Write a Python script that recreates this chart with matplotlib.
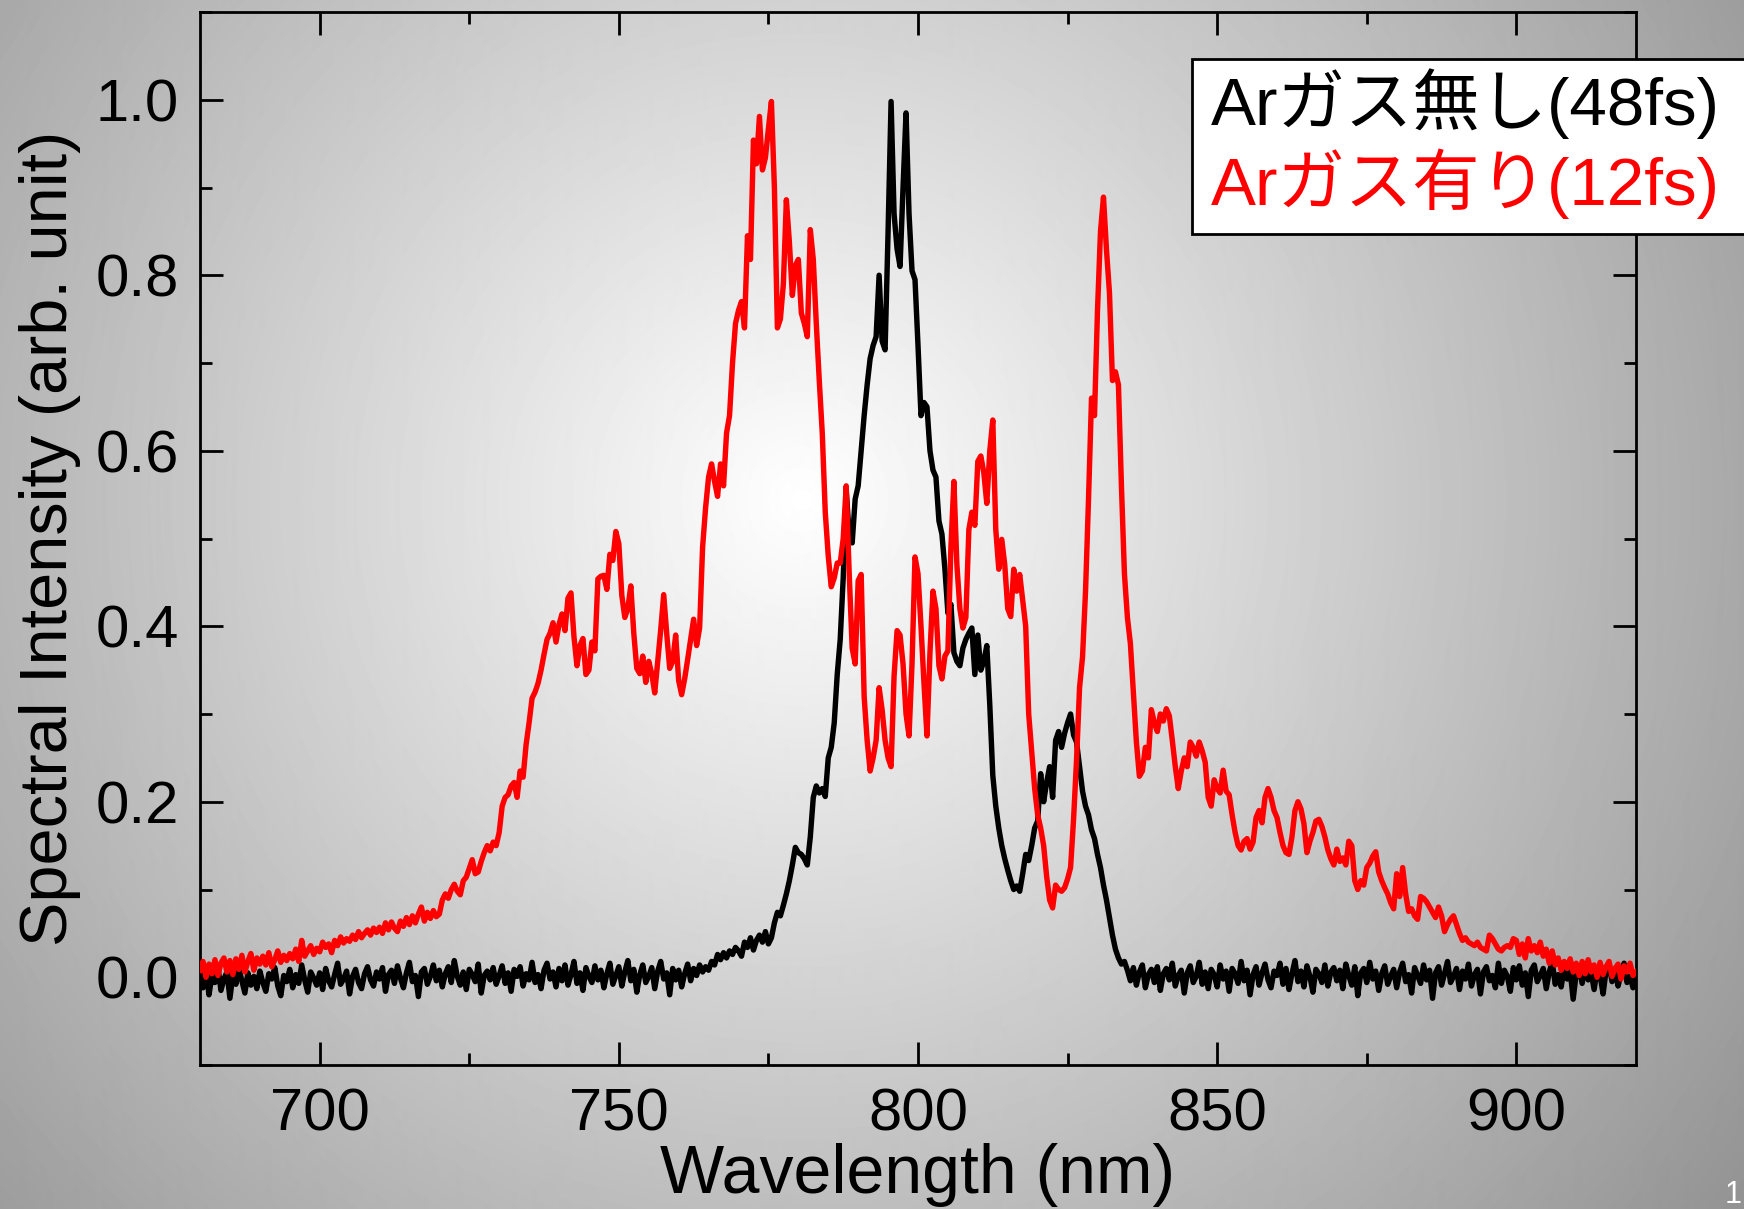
import numpy as np
import matplotlib
matplotlib.use("Agg")
import matplotlib.pyplot as plt
from matplotlib import font_manager
from matplotlib.patches import Rectangle
from matplotlib.ticker import MultipleLocator

wavelength = np.arange(680, 920.01, 0.5)

# Ar gas off (48 fs)
no_gas = [
    0.004, -0.012, 0.008, -0.020, 0.002, -0.006, 0.012, -0.015, -0.002, 0.006, -0.024, 0.003, -0.008, 0.010, -0.004, -0.018, 0.005, -0.009, 0.001, -0.013,
    0.007, -0.006, -0.016, 0.004, -0.002, 0.011, -0.010, -0.021, 0.002, -0.005, 0.009, -0.012, 0.003, -0.007, 0.014, -0.003, -0.017, 0.006, -0.001, -0.009,
    0.005, -0.014, 0.010, -0.004, -0.011, 0.003, 0.016, -0.008, -0.002, 0.007, -0.019, 0.001, 0.009, -0.006, -0.013, 0.004, 0.012, -0.003, -0.010, 0.006,
    -0.002, 0.011, -0.016, 0.003, 0.008, -0.007, 0.013, -0.001, -0.012, 0.005, 0.017, -0.005, 0.002, -0.022, 0.006, 0.010, -0.008, 0.001, 0.014, -0.004,
    0.008, -0.011, 0.004, 0.012, -0.006, 0.019, 0.001, -0.009, 0.006, -0.014, 0.009, 0.003, -0.005, 0.015, -0.018, 0.002, 0.007, -0.003, 0.011, -0.008,
    0.002, 0.013, -0.007, 0.005, -0.016, 0.009, 0.001, 0.012, -0.010, 0.004, -0.003, 0.017, -0.006, 0.003, -0.013, 0.008, 0.016, -0.002, 0.006, -0.011,
    0.010, -0.004, 0.014, -0.009, 0.003, 0.018, -0.007, 0.005, -0.015, 0.011, 0.001, -0.006, 0.013, -0.003, 0.008, -0.012, 0.004, 0.016, -0.008, 0.002,
    0.012, -0.010, 0.006, 0.019, -0.004, 0.009, -0.017, 0.003, 0.014, -0.006, 0.001, 0.011, -0.013, 0.007, 0.018, -0.002, 0.005, -0.020, 0.010, -0.003,
    0.008, -0.011, 0.004, 0.015, -0.004, 0.010, 0.002, 0.014, 0.006, 0.012, 0.008, 0.018, 0.014, 0.026, 0.020, 0.028, 0.022, 0.030, 0.026, 0.034,
    0.030, 0.024, 0.040, 0.034, 0.045, 0.031, 0.042, 0.048, 0.040, 0.052, 0.038, 0.045, 0.062, 0.074, 0.070, 0.082, 0.095, 0.110, 0.128, 0.148,
    0.142, 0.140, 0.135, 0.128, 0.160, 0.205, 0.218, 0.210, 0.215, 0.206, 0.250, 0.262, 0.290, 0.345, 0.385, 0.455, 0.555, 0.505, 0.495, 0.545,
    0.560, 0.600, 0.640, 0.675, 0.705, 0.720, 0.730, 0.800, 0.725, 0.715, 0.850, 0.998, 0.870, 0.830, 0.810, 0.900, 0.985, 0.870, 0.805, 0.795,
    0.720, 0.640, 0.655, 0.650, 0.600, 0.578, 0.570, 0.520, 0.505, 0.465, 0.415, 0.425, 0.370, 0.360, 0.355, 0.375, 0.385, 0.392, 0.398, 0.345,
    0.390, 0.350, 0.360, 0.378, 0.310, 0.230, 0.195, 0.170, 0.150, 0.135, 0.122, 0.110, 0.100, 0.104, 0.098, 0.118, 0.140, 0.133, 0.150, 0.170,
    0.178, 0.232, 0.200, 0.222, 0.240, 0.205, 0.270, 0.280, 0.262, 0.278, 0.290, 0.300, 0.276, 0.268, 0.240, 0.212, 0.195, 0.185, 0.168, 0.158,
    0.140, 0.125, 0.105, 0.088, 0.068, 0.048, 0.032, 0.022, 0.015, 0.018, 0.008, -0.004, 0.011, -0.009, 0.006, 0.014, -0.012, 0.003, 0.009, -0.006,
    0.012, -0.015, 0.004, 0.010, -0.003, 0.016, -0.010, 0.002, 0.008, -0.018, 0.005, 0.013, -0.006, 0.001, 0.017, -0.008, 0.006, -0.013, 0.009, 0.003,
    -0.011, 0.014, -0.002, 0.007, -0.016, 0.010, 0.004, -0.007, 0.018, -0.004, 0.008, -0.020, 0.003, 0.012, -0.009, 0.005, 0.015, -0.003, -0.012, 0.007,
    0.002, 0.016, -0.008, 0.010, -0.014, 0.004, 0.019, -0.005, 0.007, -0.011, 0.013, 0.001, -0.017, 0.009, 0.004, -0.006, 0.014, -0.010, 0.006, 0.011,
    -0.004, 0.008, -0.013, 0.015, 0.002, -0.009, 0.012, -0.021, 0.005, 0.010, -0.006, 0.017, -0.002, 0.007, -0.015, 0.004, 0.013, -0.008, 0.001, 0.009,
    -0.012, 0.006, 0.016, -0.005, 0.003, -0.018, 0.011, 0.002, -0.007, 0.014, -0.003, 0.008, -0.024, 0.005, 0.012, -0.009, 0.004, 0.018, -0.006, 0.001,
    0.010, -0.014, 0.007, -0.002, 0.015, -0.010, 0.003, 0.009, -0.019, 0.006, 0.012, -0.004, 0.002, -0.012, 0.016, -0.007, 0.008, 0.001, -0.016, 0.011,
    -0.003, 0.013, -0.009, 0.005, -0.022, 0.008, 0.014, -0.005, 0.002, 0.010, -0.013, 0.006, 0.017, -0.008, 0.003, -0.011, 0.012, -0.002, 0.007, -0.025,
    0.004, 0.011, -0.007, 0.015, -0.003, 0.006, -0.014, 0.009, 0.002, -0.019, 0.008, 0.013, -0.005, 0.010, -0.010, 0.004, 0.016, -0.006, 0.001, -0.012,
    0.003,
]

# Ar gas on (12 fs)
with_gas = [
    0.008, 0.018, 0.000, 0.015, 0.004, 0.020, 0.002, 0.016, 0.022, 0.006, 0.019, 0.003, 0.021, 0.009, 0.025, 0.006, 0.018, 0.027, 0.008, 0.022,
    0.015, 0.024, 0.014, 0.028, 0.012, 0.020, 0.030, 0.017, 0.025, 0.019, 0.027, 0.021, 0.032, 0.018, 0.042, 0.024, 0.030, 0.036, 0.026, 0.033,
    0.029, 0.040, 0.034, 0.038, 0.028, 0.042, 0.036, 0.046, 0.039, 0.044, 0.041, 0.048, 0.043, 0.052, 0.045, 0.050, 0.054, 0.048, 0.056, 0.051,
    0.057, 0.050, 0.062, 0.054, 0.063, 0.056, 0.052, 0.064, 0.058, 0.068, 0.060, 0.070, 0.062, 0.072, 0.080, 0.064, 0.074, 0.067, 0.076, 0.069,
    0.072, 0.088, 0.095, 0.090, 0.100, 0.106, 0.098, 0.094, 0.110, 0.114, 0.124, 0.134, 0.118, 0.120, 0.132, 0.142, 0.150, 0.144, 0.154, 0.150,
    0.165, 0.195, 0.205, 0.208, 0.218, 0.222, 0.205, 0.235, 0.228, 0.265, 0.290, 0.318, 0.325, 0.335, 0.350, 0.368, 0.385, 0.392, 0.404, 0.382,
    0.402, 0.414, 0.395, 0.432, 0.438, 0.388, 0.355, 0.378, 0.386, 0.345, 0.350, 0.382, 0.372, 0.454, 0.457, 0.458, 0.442, 0.482, 0.475, 0.508,
    0.494, 0.435, 0.410, 0.420, 0.446, 0.392, 0.352, 0.346, 0.366, 0.336, 0.360, 0.346, 0.324, 0.360, 0.396, 0.436, 0.392, 0.352, 0.360, 0.390,
    0.338, 0.322, 0.340, 0.362, 0.385, 0.408, 0.378, 0.398, 0.490, 0.535, 0.570, 0.585, 0.565, 0.548, 0.585, 0.560, 0.620, 0.640, 0.700, 0.745,
    0.760, 0.770, 0.740, 0.845, 0.818, 0.954, 0.927, 0.981, 0.920, 0.934, 0.967, 0.998, 0.900, 0.740, 0.750, 0.790, 0.886, 0.838, 0.777, 0.811,
    0.818, 0.757, 0.745, 0.730, 0.852, 0.818, 0.745, 0.680, 0.620, 0.530, 0.480, 0.445, 0.455, 0.472, 0.472, 0.500, 0.560, 0.460, 0.375, 0.357,
    0.452, 0.459, 0.320, 0.270, 0.235, 0.250, 0.270, 0.330, 0.305, 0.270, 0.250, 0.240, 0.343, 0.395, 0.390, 0.357, 0.300, 0.275, 0.357, 0.479,
    0.460, 0.400, 0.335, 0.275, 0.370, 0.440, 0.420, 0.355, 0.340, 0.366, 0.372, 0.490, 0.565, 0.470, 0.420, 0.398, 0.410, 0.510, 0.530, 0.515,
    0.588, 0.594, 0.575, 0.540, 0.600, 0.635, 0.510, 0.465, 0.499, 0.470, 0.420, 0.411, 0.465, 0.440, 0.459, 0.430, 0.400, 0.300, 0.258, 0.215,
    0.185, 0.170, 0.150, 0.115, 0.088, 0.079, 0.105, 0.100, 0.098, 0.102, 0.112, 0.125, 0.180, 0.248, 0.330, 0.365, 0.440, 0.545, 0.660, 0.640,
    0.760, 0.850, 0.889, 0.829, 0.780, 0.680, 0.690, 0.675, 0.560, 0.460, 0.410, 0.380, 0.325, 0.268, 0.229, 0.235, 0.262, 0.250, 0.305, 0.290,
    0.280, 0.300, 0.292, 0.306, 0.298, 0.270, 0.240, 0.215, 0.235, 0.250, 0.240, 0.268, 0.262, 0.252, 0.268, 0.258, 0.245, 0.205, 0.195, 0.225,
    0.215, 0.210, 0.236, 0.212, 0.208, 0.185, 0.165, 0.150, 0.145, 0.155, 0.158, 0.146, 0.154, 0.182, 0.190, 0.176, 0.205, 0.215, 0.205, 0.190,
    0.182, 0.165, 0.150, 0.142, 0.140, 0.160, 0.190, 0.200, 0.192, 0.175, 0.142, 0.155, 0.165, 0.178, 0.180, 0.172, 0.160, 0.145, 0.135, 0.128,
    0.146, 0.132, 0.136, 0.128, 0.155, 0.150, 0.110, 0.100, 0.110, 0.105, 0.125, 0.130, 0.138, 0.143, 0.120, 0.110, 0.102, 0.095, 0.085, 0.078,
    0.118, 0.092, 0.125, 0.095, 0.075, 0.078, 0.070, 0.066, 0.092, 0.090, 0.086, 0.080, 0.074, 0.068, 0.080, 0.070, 0.052, 0.060, 0.066, 0.070,
    0.060, 0.050, 0.042, 0.045, 0.040, 0.038, 0.036, 0.040, 0.034, 0.032, 0.030, 0.048, 0.044, 0.038, 0.032, 0.030, 0.034, 0.036, 0.034, 0.044,
    0.042, 0.026, 0.038, 0.022, 0.044, 0.030, 0.036, 0.028, 0.040, 0.024, 0.032, 0.016, 0.030, 0.014, 0.022, 0.008, 0.018, 0.010, 0.021, 0.006,
    0.016, 0.002, 0.018, 0.004, 0.020, 0.006, 0.014, 0.000, 0.017, 0.003, 0.012, 0.018, 0.001, 0.010, 0.015, -0.002, 0.013, 0.006, 0.016, 0.002,
    0.006,
]

labels = ["Arガス無し(48fs)", "Arガス有り(12fs)"]
colors = ["black", "red"]


def pick_font(names):
    for name in names:
        try:
            font_manager.findfont(name, fallback_to_default=False)
            return name
        except ValueError:
            pass
    return "DejaVu Sans"


sans = pick_font(["Liberation Sans", "Arial"])
jp_font = [sans, pick_font(["Noto Sans CJK JP"]), "DejaVu Sans"]

W, H = 1744, 1209
fig = plt.figure(figsize=(W / 100, H / 100), dpi=100)

# radial grey backdrop of the slide
bg = fig.add_axes([0, 0, 1, 1], zorder=-5)
yy, xx = np.mgrid[0:H, 0:W]
dist = np.hypot(xx - 800, yy - 500)
shade = np.clip(1 - 0.00036 * dist, 0.58, 1.0)
bg.imshow(shade, cmap="gray", vmin=0, vmax=1, aspect="auto", interpolation="bilinear")
bg.axis("off")

ax = fig.add_axes([200 / W, 1 - 1065 / H, 1436 / W, 1053 / H])
ax.set_facecolor("none")

ax.plot(wavelength, no_gas, color=colors[0], lw=3.9, label=labels[0], zorder=3)
ax.plot(wavelength, with_gas, color=colors[1], lw=3.9, label=labels[1], zorder=4)

ax.set_xlim(680, 920)
ax.set_ylim(-0.1, 1.1)
ax.xaxis.set_major_locator(MultipleLocator(50))
ax.xaxis.set_minor_locator(MultipleLocator(25))
ax.yaxis.set_major_locator(MultipleLocator(0.2))
ax.yaxis.set_minor_locator(MultipleLocator(0.1))
ax.tick_params(which="both", direction="in", top=True, right=True, width=2, color="black")
ax.tick_params(which="major", length=16.5)
ax.tick_params(which="minor", length=8.5)
ax.tick_params(axis="x", which="major", pad=16)
ax.tick_params(axis="y", which="major", pad=15)
for sp in ax.spines.values():
    sp.set_linewidth(2)

ax.set_yticks([0.0, 0.2, 0.4, 0.6, 0.8, 1.0])
ax.set_yticklabels(["0.0", "0.2", "0.4", "0.6", "0.8", "1.0"], fontfamily=sans, fontsize=43)
ax.set_xticks([700, 750, 800, 850, 900])
ax.set_xticklabels(["700", "750", "800", "850", "900"], fontfamily=sans, fontsize=43)

ax.set_xlabel("Wavelength (nm)", fontfamily=sans, fontsize=49, va="top")
ax.xaxis.set_label_coords(0.5, -0.074)
ax.set_ylabel("Spectral Intensity (arb. unit)", fontfamily=sans, fontsize=48,
              va="center", ha="center")
ax.yaxis.set_label_coords(-0.1045, 0.5)

# legend box, running off the right edge of the slide
fig.patches.append(Rectangle((1192 / W, 1 - 234 / H), 600 / W, 175 / H,
                             transform=fig.transFigure, facecolor="white",
                             edgecolor="black", linewidth=2, zorder=10))
for i, (lab, col) in enumerate(zip(labels, colors)):
    fig.text(1211 / W, 1 - (125 + 80 * i) / H, lab, color=col, fontsize=48.5,
             fontfamily=jp_font, ha="left", va="baseline", zorder=11)

fig.text(1742 / W, 6 / H, "1", color="white", fontsize=22, ha="right", va="baseline",
         fontfamily=sans)

fig.savefig("out.png", dpi=100)
